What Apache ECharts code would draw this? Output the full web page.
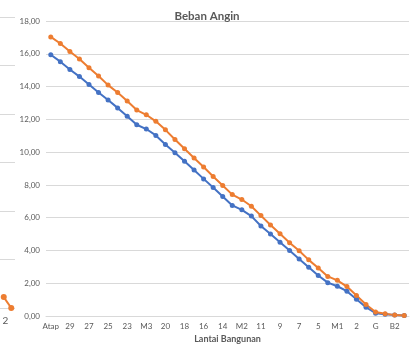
<!DOCTYPE html>
<html>
<head>
<meta charset="utf-8">
<script src="https://cdn.jsdelivr.net/npm/echarts@6/dist/echarts.min.js"></script>
<style>
html,body{margin:0;padding:0;background:#fff;}
#c{width:414px;height:349px;}
</style>
</head>
<body>
<div id="c"></div>
<script>
var categories = ['Atap','30','29','28','27','26','25','24','23','22','M3','21','20','19','18','17','16','15','14','13','M2','12','11','10','9','8','7','6','5','4','M1','3','2','1','G','B1','B2','B3'];
var seriesOrange = [17.03,16.63,16.14,15.68,15.15,14.65,14.09,13.64,13.12,12.57,12.28,11.88,11.36,10.77,10.21,9.64,9.09,8.52,7.97,7.41,7.11,6.70,6.13,5.56,5.02,4.48,3.98,3.43,2.94,2.42,2.18,1.80,1.26,0.71,0.25,0.14,0.06,0.03];
var seriesBlue = [15.94,15.52,15.04,14.61,14.13,13.64,13.18,12.70,12.19,11.67,11.41,11.02,10.47,9.97,9.44,8.91,8.37,7.84,7.30,6.75,6.48,6.10,5.50,5.01,4.50,4.00,3.49,2.98,2.48,2.04,1.82,1.52,1.03,0.54,0.18,0.12,0.06,0.03];
var yTicks = [0,2,4,6,8,10,12,14,16,18];
// fragment of neighbouring chart visible at the left edge
var sideCategories = ['', '2'];
var sideOrange = [0.45,0.0];

var FONT = 'Lato, "Open Sans", sans-serif';
var chart = echarts.init(document.getElementById('c'));
chart.setOption({
  animation:false,
  title:{text:'Beban Angin',left:'center',top:5,textStyle:{fontFamily:FONT,fontSize:11.5,fontWeight:'bold',color:'#595959'}},
  grid:[
    {left:46,right:5,top:21,bottom:26},
    {left:-9,width:24,top:17,bottom:41}
  ],
  xAxis:[
    {type:'category',gridIndex:0,data:categories,boundaryGap:true,
     axisLine:{lineStyle:{color:'#d9d9d9'}},axisTick:{show:false},
     axisLabel:{interval:1,fontFamily:FONT,fontSize:8,color:'#595959',margin:6},
     name:'Lantai Bangunan',nameLocation:'middle',nameGap:18,
     nameTextStyle:{fontFamily:FONT,fontSize:9,fontWeight:'bold',color:'#595959'}},
    {type:'category',gridIndex:1,data:sideCategories,boundaryGap:true,
     axisLine:{show:false},axisTick:{show:false},
     axisLabel:{interval:0,fontFamily:FONT,fontSize:10,color:'#595959',margin:8,align:'right',padding:[0,3,0,0]}}
  ],
  yAxis:[
    {type:'value',gridIndex:0,min:yTicks[0],max:yTicks[yTicks.length-1],interval:2,
     axisLine:{show:false},axisTick:{show:false},
     splitLine:{lineStyle:{color:'#d9d9d9',width:1}},
     axisLabel:{fontFamily:FONT,fontSize:8,color:'#595959',margin:6,
       formatter:function(v){return v.toFixed(2).replace('.',',');}}},
    {type:'value',gridIndex:1,min:0,max:12,interval:2,
     axisLine:{show:false},axisTick:{show:false},axisLabel:{show:false},
     splitLine:{lineStyle:{color:'#d9d9d9',width:1}}}
  ],
  series:[
    {type:'line',xAxisIndex:0,yAxisIndex:0,data:seriesBlue,symbol:'circle',symbolSize:5,
     lineStyle:{color:'#4472C4',width:2},itemStyle:{color:'#4472C4'}},
    {type:'line',xAxisIndex:0,yAxisIndex:0,data:seriesOrange,symbol:'circle',symbolSize:5,
     lineStyle:{color:'#ED7D31',width:2},itemStyle:{color:'#ED7D31'}},
    {type:'line',xAxisIndex:1,yAxisIndex:1,data:sideOrange,symbol:'circle',symbolSize:6,
     lineStyle:{color:'#ED7D31',width:2},itemStyle:{color:'#ED7D31'}}
  ]
});
</script>
</body>
</html>
